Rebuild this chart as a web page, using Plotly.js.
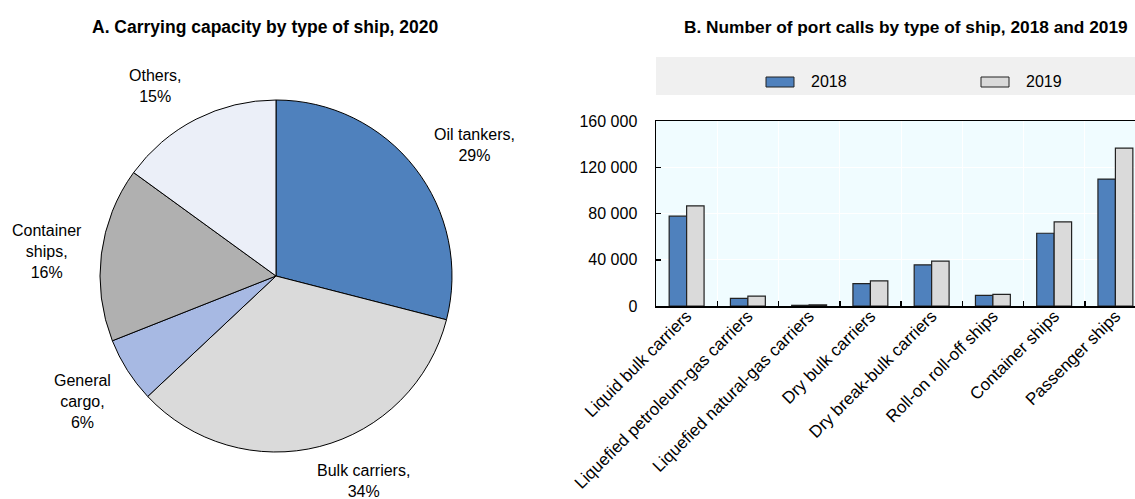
<!DOCTYPE html>
<html>
<head>
<meta charset="utf-8">
<script src="https://cdn.plot.ly/plotly-3.0.1.min.js"></script>
<style>html,body{margin:0;padding:0;background:#fff;}#chart{width:1135px;height:499px;}</style>
</head>
<body>
<div id="chart"></div>
<script>
// Panel A data
const pieLabels = ["Oil tankers", "Bulk carriers", "General cargo", "Container ships", "Others"];
const pieValues = [29, 34, 6, 16, 15];
const pieColors = ["#4f81bd", "#dadada", "#a7b9e3", "#b0b0b0", "#ebeff8"];
const pieText = ["Oil tankers,<br>29%", "Bulk carriers,<br>34%", "General<br>cargo,<br>6%", "Container<br>ships,<br>16%", "Others,<br>15%"];

// Panel B data
const shipTypes = ["Liquid bulk carriers", "Liquefied petroleum-gas carriers", "Liquefied natural-gas carriers",
  "Dry bulk carriers", "Dry break-bulk carriers", "Roll-on roll-off ships", "Container ships", "Passenger ships"];
const calls2018 = [77700, 6600, 600, 19300, 35600, 9200, 62900, 109800];
const calls2019 = [86600, 8600, 1000, 21800, 38800, 10000, 72700, 136500];
const seriesNames = ["2018", "2019"];
const seriesColors = ["#4f81bd", "#dadada"];
const yTickVals = [0, 40000, 80000, 120000, 160000];
const yTickText = ["0", "40 000", "80 000", "120 000", "160 000"];

const W = 1135, H = 499;
const px = x => x / W;
const py = y => 1 - y / H;
const FONT = "Liberation Sans, Arial, sans-serif";

const traces = [
  {
    type: "pie", labels: pieLabels, values: pieValues, sort: false, direction: "clockwise", rotation: 0,
    marker: {colors: pieColors, line: {color: "#000", width: 1}},
    textinfo: "none", hoverinfo: "label+percent", showlegend: false,
    domain: {x: [px(100), px(452)], y: [py(452), py(100)]}
  },
  {
    type: "bar", name: seriesNames[0], x: shipTypes, y: calls2018,
    marker: {color: seriesColors[0], line: {color: "#222", width: 1.2}}, xaxis: "x", yaxis: "y", showlegend: false
  },
  {
    type: "bar", name: seriesNames[1], x: shipTypes, y: calls2019,
    marker: {color: seriesColors[1], line: {color: "#222", width: 1.2}}, xaxis: "x", yaxis: "y", showlegend: false
  }
];

// pie label positions (pixel centers)
const pieLabelPos = [[474, 145], [363, 481], [82, 401], [47, 252], [155, 86]];
const annotations = [
  {text: "<b>A. Carrying capacity by type of ship, 2020</b>", x: px(265), y: py(27), xref: "paper", yref: "paper",
   showarrow: false, xanchor: "center", yanchor: "middle", font: {family: FONT, size: 17.5, color: "#000"}},
  {text: "<b>B. Number of port calls by type of ship, 2018 and 2019</b>", x: px(906), y: py(27), xref: "paper", yref: "paper",
   showarrow: false, xanchor: "center", yanchor: "middle", font: {family: FONT, size: 17.3, color: "#000"}}
];
pieText.forEach((t, i) => {
  annotations.push({text: t, x: px(pieLabelPos[i][0]), y: py(pieLabelPos[i][1]), xref: "paper", yref: "paper",
    showarrow: false, xanchor: "center", yanchor: "middle", align: "center",
    font: {family: FONT, size: 16, color: "#000"}});
});

// custom legend
const shapes = [
  {type: "rect", xref: "paper", yref: "paper", x0: px(656), x1: 1, y0: py(95), y1: py(57),
   fillcolor: "#f0f0f0", line: {width: 0}, layer: "below"}
];
const legendX = [766, 981];
seriesNames.forEach((n, i) => {
  shapes.push({type: "rect", xref: "paper", yref: "paper", x0: px(legendX[i]), x1: px(legendX[i] + 28),
    y0: py(87), y1: py(77), fillcolor: seriesColors[i], line: {color: "#222", width: 1}});
  annotations.push({text: n, x: px(legendX[i] + 43), y: py(82), xref: "paper", yref: "paper", showarrow: false,
    xanchor: "left", yanchor: "middle", font: {family: FONT, size: 16, color: "#000"}});
});

const layout = {
  width: W, height: H,
  margin: {l: 0, r: 0, t: 0, b: 0},
  paper_bgcolor: "#fff", plot_bgcolor: "#f0fcff",
  font: {family: FONT, size: 16, color: "#000"},
  barmode: "group", bargap: 0.43, bargroupgap: 0,
  showlegend: false,
  xaxis: {
    domain: [px(656), 1], range: [-0.5, 7.32], type: "category",
    tickson: "boundaries", ticks: "inside", ticklen: 5, tickwidth: 1.5, tickcolor: "#000",
    showgrid: true, gridcolor: "#ffffff", gridwidth: 1,
    showline: true, linecolor: "#000", linewidth: 1.5, mirror: true,
    tickangle: -45, ticklabelstandoff: -8,
    tickfont: {family: FONT, size: 17, color: "#000"}, fixedrange: true
  },
  yaxis: {
    domain: [py(306), py(121)], range: [0, 160000],
    tickvals: yTickVals, ticktext: yTickText,
    ticks: "inside", ticklen: 5, tickwidth: 1.5, tickcolor: "#000",
    showgrid: true, gridcolor: "#ffffff", gridwidth: 1, zeroline: false,
    showline: true, linecolor: "#000", linewidth: 1.5,
    ticklabelstandoff: 14,
    tickfont: {family: FONT, size: 16, color: "#000"}, fixedrange: true
  },
  annotations: annotations,
  shapes: shapes
};

Plotly.newPlot("chart", traces, layout, {displayModeBar: false, staticPlot: true});
</script>
</body>
</html>
